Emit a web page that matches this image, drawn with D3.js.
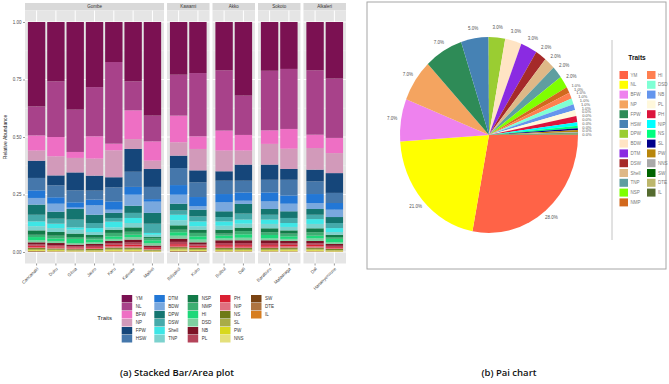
<!DOCTYPE html>
<html>
<head>
  <title>Traits relative abundance</title>
  <style>
    body { margin: 0; background: #fff; }
    #chart { font-family: "Liberation Sans", Arial, sans-serif; }
    .axis .domain { display: none; }
    .axis text { font-size: 4.5px; fill: #4d4d4d; }
    .axis line { stroke: #333; stroke-width: 0.5; }
    .caption { font-family: "Open Sans", sans-serif; font-weight: 600; font-size: 9.5px; fill: #111; }
  </style>
</head>
<body>
  <div id="chart"></div>

  <script src="https://d3js.org/d3.v7.min.js"></script>
  <script>
    // traits, top of the stack first (same order as the bar legend)
    const traits = ["YM", "NL", "BFW", "NP", "FPW", "HSW", "DTM", "BDW", "DPW", "DSW", "Shell", "TNP",
      "NSP", "NMP", "HI", "DSD", "NB", "PL", "PH", "NIP", "NS", "SL", "PW", "NNS", "SW", "DTE", "IL"];
    const traitColors = ["#7b1152", "#a8428a", "#ee6fc4", "#d29aba", "#15467a", "#4577ab", "#2277d6", "#79a8de",
      "#147570", "#45aaaa", "#3ee6e6", "#7cd2ce", "#137a48", "#3dae72", "#1ed87a", "#7fcfa0", "#7d1226",
      "#b4445a", "#da2032", "#e07080", "#6e7a16", "#a8ac48", "#d8d81e", "#e4e07c", "#7a4312", "#ae7441", "#d67d20"];

    const sites = ["Gombe", "Kawami", "Akko", "Sokoto", "Alkaleri"];
    const siteLocalities = [
      ["Cancanaki", "Duku", "Gilwa", "Jauro", "Karu", "Kalwale", "Malkei"],
      ["Biliyakoi", "Kuko"],
      ["Bulbul", "Dali"],
      ["Baraburo", "Mafaaraga"],
      ["Dal", "Hananyerwuse"]
    ];

    // relative abundance (%) per locality, in trait order
    const cancanaki = [36.7, 12.6, 6.6, 4.4, 7.5, 5.4, 3.3, 2.9, 4.4, 2.9, 2.1, 1.8, 1.9, 1.0, 1.4, 0.9, 0.9, 0.6, 0.5, 0.5, 0.4, 0.4, 0.3, 0.2, 0.2, 0.1, 0.1];
    const duku = [25.8, 24.2, 8.4, 8.3, 4.3, 5.2, 2.8, 3.5, 3.0, 2.2, 1.9, 1.7, 1.6, 1.2, 1.1, 0.9, 0.9, 0.6, 0.5, 0.4, 0.4, 0.3, 0.3, 0.2, 0.1, 0.1, 0.1];
    const gilwa = [38.1, 18.4, 2.6, 6.3, 7.8, 5.2, 2.3, 0.6, 4.6, 3.4, 1.0, 1.7, 1.5, 0.8, 1.8, 0.7, 0.7, 0.5, 0.4, 0.4, 0.3, 0.3, 0.2, 0.2, 0.1, 0.05, 0.05];
    const jauro = [28.3, 21.4, 9.7, 7.4, 6.5, 3.9, 2.5, 4.1, 3.6, 2.2, 1.7, 1.3, 1.2, 0.8, 1.2, 0.7, 0.8, 0.6, 0.4, 0.4, 0.4, 0.3, 0.3, 0.1, 0.1, 0.05, 0.05];
    const karu = [17.4, 35.5, 2.9, 11.7, 4.4, 6.1, 3.6, 1.4, 2.2, 1.6, 2.5, 1.0, 1.4, 1.5, 1.1, 0.9, 1.0, 0.7, 0.6, 0.6, 0.5, 0.4, 0.4, 0.3, 0.1, 0.1, 0.1];
    const kalwale = [25.8, 12.6, 12.5, 4.3, 9.9, 6.6, 3.4, 4.8, 3.1, 2.2, 2.2, 1.9, 1.9, 1.3, 1.0, 1.1, 1.3, 0.9, 0.7, 0.6, 0.5, 0.4, 0.4, 0.3, 0.1, 0.1, 0.1];
    const malkei = [40.7, 11.2, 8.4, 3.6, 7.8, 5.3, 1.1, 4.9, 4.7, 4.0, 0.8, 1.0, 0.6, 0.8, 1.2, 1.1, 0.6, 0.5, 0.4, 0.3, 0.3, 0.2, 0.2, 0.1, 0.1, 0.05, 0.05];
    const biliyakoi = [22.9, 17.8, 11.6, 5.8, 5.4, 7.4, 4.2, 3.9, 2.9, 1.9, 2.4, 2.2, 1.9, 1.1, 1.5, 1.3, 1.4, 1.0, 0.7, 0.6, 0.5, 0.5, 0.4, 0.3, 0.2, 0.1, 0.1];
    const kuko = [22.2, 27.5, 5.5, 9.3, 5.2, 6.4, 4.0, 1.5, 2.9, 2.2, 2.1, 1.5, 1.4, 1.5, 1.4, 1.2, 0.9, 0.6, 0.5, 0.5, 0.4, 0.4, 0.3, 0.2, 0.2, 0.1, 0.1];
    const bulbul = [21.0, 26.2, 8.7, 9.0, 4.1, 5.8, 3.6, 3.9, 2.5, 1.9, 1.9, 1.7, 1.7, 0.9, 1.2, 0.8, 1.2, 0.9, 0.7, 0.6, 0.5, 0.4, 0.3, 0.2, 0.1, 0.1, 0.1];
    const dali = [32.0, 17.1, 6.8, 6.1, 7.0, 5.1, 3.6, 1.4, 4.2, 2.6, 1.8, 1.7, 1.5, 1.4, 1.5, 1.1, 1.2, 0.9, 0.7, 0.6, 0.5, 0.4, 0.3, 0.2, 0.1, 0.1, 0.1];
    const baraburo = [21.2, 25.9, 5.9, 9.0, 6.6, 5.5, 3.9, 3.3, 2.5, 2.1, 1.9, 1.9, 1.7, 1.2, 1.5, 0.8, 1.2, 0.9, 0.7, 0.6, 0.5, 0.4, 0.3, 0.2, 0.1, 0.1, 0.1];
    const mafaaraga = [20.4, 26.1, 8.6, 8.8, 4.7, 6.8, 3.6, 3.3, 2.9, 2.2, 1.7, 1.5, 1.4, 1.2, 1.1, 0.9, 1.0, 0.7, 0.6, 0.6, 0.5, 0.4, 0.4, 0.3, 0.1, 0.1, 0.1];
    const dal = [21.0, 28.0, 5.8, 9.4, 5.1, 5.5, 3.9, 2.6, 2.5, 1.9, 2.1, 1.9, 1.7, 1.5, 1.2, 1.1, 1.0, 0.7, 0.6, 0.6, 0.5, 0.4, 0.4, 0.3, 0.1, 0.1, 0.1];
    const hananyerwuse = [24.6, 25.8, 6.6, 8.7, 8.6, 4.4, 2.9, 3.2, 2.6, 2.2, 1.7, 1.2, 1.0, 0.8, 1.5, 0.7, 0.8, 0.6, 0.4, 0.4, 0.4, 0.3, 0.3, 0.1, 0.1, 0.05, 0.05];

    const siteValues = [
      [cancanaki, duku, gilwa, jauro, karu, kalwale, malkei],
      [biliyakoi, kuko],
      [bulbul, dali],
      [baraburo, mafaaraga],
      [dal, hananyerwuse]
    ];

    // pie chart data (order of the pie legend)
    const pieTraits = ["YM", "NL", "BFW", "NP", "FPW", "HSW", "DPW", "BDW", "DTM", "DSW", "Shell", "TNP", "NSP", "NMP",
      "HI", "DSD", "NB", "PL", "PH", "NIP", "NS", "SL", "PW", "NNS", "SW", "DTE", "IL"];
    const pieValues = [28, 21, 7, 7, 7, 5, 3, 3, 3, 2, 2, 2, 2, 1, 1, 1, 1, 1, 1, 0.6, 0.4, 0.3, 0.3, 0.2, 0.1, 0.1, 0.1];
    const pieColors = ["#ff6347", "#ffff00", "#ee82ee", "#f4a460", "#2e8b57", "#4682b4", "#9acd32", "#ffe4c4",
      "#8a2be2", "#a52a2a", "#deb887", "#5f9ea0", "#7fff00", "#d2691e", "#ff7f50", "#7fffd4", "#6495ed",
      "#fff8dc", "#dc143c", "#00ffff", "#00ff7f", "#00008b", "#b8860b", "#a9a9a9", "#006400", "#bdb76b", "#556b2f"];

    const svg = d3.select("#chart").append("svg")
      .attr("width", 669)
      .attr("height", 384);

    // ---------- (a) stacked bars, one facet per site ----------
    const color = d3.scaleOrdinal().domain(traits).range(traitColors);
    const y = d3.scaleLinear().domain([-0.05, 1.05]).range([263.5, 10.5]);
    const stack = d3.stack().keys(traits.slice().reverse());

    const unit = 19.31, gap = 3, left = 25;
    let x0 = left;

    sites.forEach((site, si) => {
      const locs = siteLocalities[si];
      const w = (locs.length + 0.2) * unit;
      const x = d3.scaleBand().domain(locs).range([x0, x0 + w])
        .paddingInner(0.1).paddingOuter(0.15);

      // strip
      svg.append("rect").attr("x", x0).attr("y", 3).attr("width", w).attr("height", 7.5)
        .attr("fill", "#d9d9d9");
      svg.append("text").attr("x", x0 + w / 2).attr("y", 8.4)
        .attr("text-anchor", "middle").attr("font-size", 4.5).attr("fill", "#333")
        .text(site);

      // panel + grid
      const panel = svg.append("g");
      panel.append("rect").attr("x", x0).attr("y", 10.5).attr("width", w).attr("height", 253)
        .attr("fill", "#e5e5e5");
      [0.125, 0.375, 0.625, 0.875].forEach(v => {
        panel.append("line").attr("x1", x0).attr("x2", x0 + w).attr("y1", y(v)).attr("y2", y(v))
          .attr("stroke", "#f2f2f2").attr("stroke-width", 0.5);
      });
      [0, 0.25, 0.5, 0.75, 1].forEach(v => {
        panel.append("line").attr("x1", x0).attr("x2", x0 + w).attr("y1", y(v)).attr("y2", y(v))
          .attr("stroke", "#fff").attr("stroke-width", 1);
      });
      locs.forEach(l => {
        const cx = x(l) + x.bandwidth() / 2;
        panel.append("line").attr("x1", cx).attr("x2", cx).attr("y1", 10.5).attr("y2", 263.5)
          .attr("stroke", "#fff").attr("stroke-width", 1);
      });

      // data rows normalised to relative abundance
      const rows = locs.map((l, i) => {
        const vals = siteValues[si][i];
        const total = d3.sum(vals);
        const row = { loc: l };
        traits.forEach((t, k) => { row[t] = vals[k] / total; });
        return row;
      });

      stack(rows).forEach(layer => {
        svg.append("g").attr("fill", color(layer.key))
          .selectAll("rect")
          .data(layer)
          .join("rect")
          .attr("x", d => x(d.data.loc))
          .attr("y", d => y(d[1]))
          .attr("width", x.bandwidth())
          .attr("height", d => y(d[0]) - y(d[1]));
      });

      // x axis
      const xa = svg.append("g").attr("class", "axis")
        .attr("transform", "translate(0,263.5)")
        .call(d3.axisBottom(x).tickSize(2).tickPadding(1));
      xa.selectAll("text")
        .attr("text-anchor", "end")
        .attr("dy", 0)
        .attr("transform", "translate(0,3.5) rotate(-45)");

      x0 += w + gap;
    });

    // y axis
    svg.append("g").attr("class", "axis")
      .attr("transform", "translate(" + left + ",0)")
      .call(d3.axisLeft(y).tickValues([0, 0.25, 0.5, 0.75, 1]).tickFormat(d3.format(".2f"))
        .tickSize(2).tickPadding(1.5));

    svg.append("text")
      .attr("transform", "translate(6.5,137) rotate(-90)")
      .attr("text-anchor", "middle").attr("font-size", 5).attr("fill", "#222")
      .text("Relative Abundance");

    // bottom legend
    svg.append("text").attr("x", 112).attr("y", 320).attr("text-anchor", "end")
      .attr("font-size", 6).attr("fill", "#222").text("Traits");
    const legCols = [121.7, 154.3, 187.7, 220, 251];
    const leg = svg.append("g").selectAll("g").data(traits).join("g")
      .attr("transform", (d, i) => "translate(" + legCols[Math.floor(i / 6)] + "," + (295 + (i % 6) * 8) + ")");
    leg.append("rect").attr("width", 10.5).attr("height", 7.5).attr("fill", d => color(d));
    leg.append("text").attr("x", 14).attr("y", 5.4).attr("font-size", 4.5).attr("fill", "#333")
      .text(d => d);

    // ---------- (b) pie chart ----------
    svg.append("rect").attr("x", 367).attr("y", 2).attr("width", 299).attr("height", 267)
      .attr("fill", "none").attr("stroke", "#a6a6a6").attr("stroke-width", 1);
    svg.append("line").attr("x1", 612).attr("x2", 612).attr("y1", 40).attr("y2", 240)
      .attr("stroke", "#b5b5b5").attr("stroke-width", 0.8);

    const cx = 489, cy = 135, r = 89, sy = 1.1;
    const pie = d3.pie().sort(null).startAngle(Math.PI / 2).endAngle(Math.PI / 2 + 2 * Math.PI);
    const arcs = pie(pieValues);
    const arc = d3.arc().innerRadius(0).outerRadius(r);
    const total = d3.sum(pieValues);

    svg.append("g").attr("transform", "translate(" + cx + "," + cy + ") scale(1," + sy + ")")
      .selectAll("path").data(arcs).join("path")
      .attr("d", arc)
      .attr("fill", (d, i) => pieColors[i]);

    // label positions at 1.1 r; the thin slices at the end are nudged apart vertically
    const labelArc = d3.arc().innerRadius(r * 1.1).outerRadius(r * 1.1);
    const labels = arcs.map(d => {
      const c = labelArc.centroid(d);
      return { d: d, x: cx + c[0], y: cy + c[1] * sy };
    });
    for (let i = labels.length - 2; i >= 13; i--) {
      labels[i].y = Math.min(labels[i].y, labels[i + 1].y - 3.8);
    }
    svg.append("g").selectAll("text").data(labels).join("text")
      .attr("x", l => l.x)
      .attr("y", l => l.y + 1.5)
      .attr("text-anchor", "middle")
      .attr("font-size", l => l.d.index >= 13 ? 4 : 4.5).attr("fill", "#555")
      .text(l => Math.round(l.d.value / total * 100).toFixed(1) + "%");

    // pie legend
    svg.append("text").attr("x", 637).attr("y", 60).attr("text-anchor", "middle")
      .attr("font-size", 6.5).attr("font-weight", "bold").attr("fill", "#111").text("Traits");
    const pleg = svg.append("g").selectAll("g").data(pieTraits).join("g")
      .attr("transform", (d, i) => "translate(" + (i < 14 ? 619.5 : 647) + "," + (71 + (i % 14) * 9.8) + ")");
    pleg.append("rect").attr("width", 8.5).attr("height", 8).attr("fill", (d, i) => pieColors[i]);
    pleg.append("text").attr("x", 11).attr("y", 5.6).attr("font-size", 4.5).attr("fill", "#777")
      .text(d => d);

    // captions
    svg.append("text").attr("class", "caption").attr("x", 177).attr("y", 376)
      .attr("text-anchor", "middle").text("(a) Stacked Bar/Area plot");
    svg.append("text").attr("class", "caption").attr("x", 509).attr("y", 376)
      .attr("text-anchor", "middle").text("(b) Pai chart");
  </script>
</body>
</html>
